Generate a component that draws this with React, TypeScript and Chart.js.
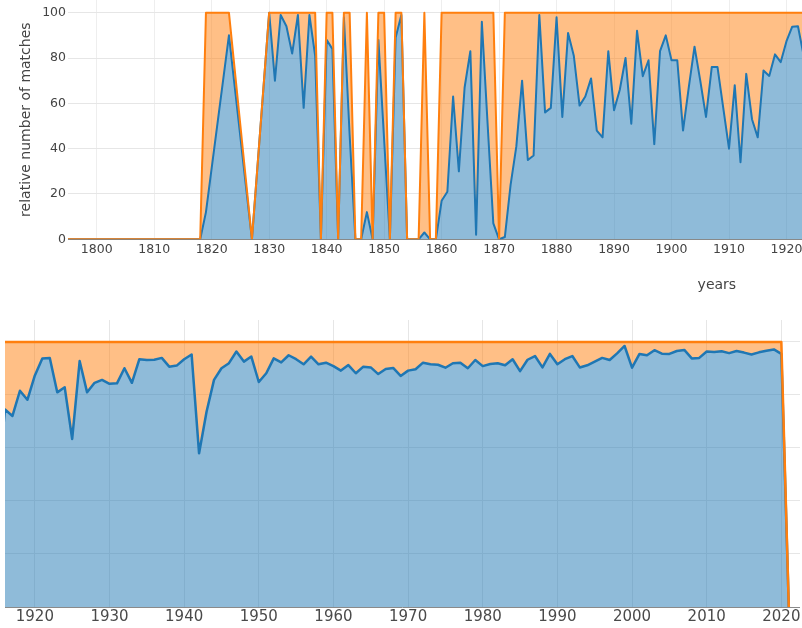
import React, { useEffect, useRef } from 'react';
import { Chart, registerables } from 'chart.js';

Chart.register(...registerables);

// ---- data ----
const totalYears = [
  1795, 1818, 1819, 1823, 1827, 1830, 1838, 1839, 1840, 1841, 1842, 1843, 1844, 1845, 1846, 1847,
  1848, 1849, 1850, 1851, 1852, 1853, 1854, 1856, 1857, 1858, 1859, 1860, 1869, 1870, 1871, 2020, 2021,
];
const totalValues = [
  0, 0, 100, 100, 0, 100, 100, 0, 100, 100, 0, 100, 100, 0, 0, 100,
  0, 100, 100, 0, 100, 100, 0, 0, 100, 0, 0, 100, 100, 0, 100, 100, 0,
];

const matchYears = [
  1795, 1818, 1819, 1823, 1827,
  1830, 1831, 1832, 1833, 1834, 1835, 1836, 1837, 1838, 1839,
  1840, 1841, 1842, 1843, 1844, 1845, 1846, 1847, 1848, 1849,
  1850, 1851, 1852, 1853, 1854, 1856, 1857, 1858, 1859,
  1860, 1861, 1862, 1863, 1864, 1865, 1866, 1867, 1868, 1869,
  1870, 1871, 1872, 1873, 1874, 1875, 1876, 1877, 1878, 1879,
  1880, 1881, 1882, 1883, 1884, 1885, 1886, 1887, 1888, 1889,
  1890, 1891, 1892, 1893, 1894, 1895, 1896, 1897, 1898, 1899,
  1900, 1901, 1902, 1903, 1904, 1905, 1906, 1907, 1908, 1909,
  1910, 1911, 1912, 1913, 1914, 1915, 1916, 1917, 1918, 1919,
  1920, 1921, 1922, 1923, 1924, 1925, 1926, 1927, 1928, 1929,
  1930, 1931, 1932, 1933, 1934, 1935, 1936, 1937, 1938, 1939,
  1940, 1941, 1942, 1943, 1944, 1945, 1946, 1947, 1948, 1949,
  1950, 1951, 1952, 1953, 1954, 1955, 1956, 1957, 1958, 1959,
  1960, 1961, 1962, 1963, 1964, 1965, 1966, 1967, 1968, 1969,
  1970, 1971, 1972, 1973, 1974, 1975, 1976, 1977, 1978, 1979,
  1980, 1981, 1982, 1983, 1984, 1985, 1986, 1987, 1988, 1989,
  1990, 1991, 1992, 1993, 1994, 1995, 1996, 1997, 1998, 1999,
  2000, 2001, 2002, 2003, 2004, 2005, 2006, 2007, 2008, 2009,
  2010, 2011, 2012, 2013, 2014, 2015, 2016, 2017, 2018, 2019,
  2020, 2021,
];
const matchValues = [
  0, 0, 12, 90, 0,
  100, 70, 99, 94, 82, 99, 58, 99, 81, 0,
  88, 84, 0, 98, 46, 0, 0, 12, 0, 88,
  44, 0, 89, 99, 0, 0, 3, 0, 0,
  17, 21, 63, 30, 67, 83, 2, 96, 51, 7,
  0, 1, 24, 41, 70, 35, 37, 99, 56, 58,
  98, 54, 91, 81, 59, 63, 71, 48, 45, 83,
  57, 66, 80, 51, 92, 72, 79, 42, 83, 90,
  79, 79, 48, 67, 85, 70, 54, 76, 76, 58,
  40, 68, 34, 73, 53, 45, 74.5, 72.1, 81.6, 78.2,
  87.4, 93.8, 94, 81, 82.9, 63.4, 92.8, 81, 84.6, 85.7,
  84.2, 84.4, 90.1, 84.6, 93.5, 93.2, 93.3, 94, 90.7, 91.1,
  93.5, 95.3, 58, 73.7, 85.7, 90.1, 92, 96.4, 92.6, 94.5,
  84.9, 88.2, 93.8, 92.3, 95, 93.5, 91.6, 94.5, 91.6, 92.2,
  90.9, 89.2, 91.3, 88.2, 90.7, 90.4, 87.9, 89.8, 90.2, 87.2,
  89.2, 89.7, 92.2, 91.6, 91.4, 90.3, 92, 92.2, 90.1, 93.2,
  90.9, 91.7, 92, 91.2, 93.5, 89, 93.3, 94.7, 90.4, 95.5,
  91.6, 93.5, 94.7, 90.4, 91.2, 92.6, 94, 93.2, 95.7, 98.5,
  90.3, 95.5, 95, 96.9, 95.6, 95.5, 96.6, 97, 93.8, 94,
  96.4, 96.2, 96.5, 95.8, 96.6, 96, 95.3, 96.1, 96.7, 97.2,
  95.5, 0,
];

const valueTicks = [0, 20, 40, 60, 80, 100];
const topYearTicks = [1800, 1810, 1820, 1830, 1840, 1850, 1860, 1870, 1880, 1890, 1900, 1910, 1920];
const bottomYearTicks = [1920, 1930, 1940, 1950, 1960, 1970, 1980, 1990, 2000, 2010, 2020];
const yTitle = 'relative number of matches';
const xTitle = 'years';

const FONT = '"DejaVu Sans", Verdana, sans-serif';
const TEXT = '#444';

function buildData(lineWidth: number) {
  return {
    datasets: [
      {
        label: 'total',
        data: totalYears.map((x, i) => ({ x, y: totalValues[i] })),
        borderColor: '#ff7f0e',
        backgroundColor: 'rgba(255,127,14,0.5)',
        borderWidth: lineWidth,
        pointRadius: 0,
        fill: '+1',
        tension: 0,
        borderJoinStyle: 'round' as const,
      },
      {
        label: 'matches',
        data: matchYears.map((x, i) => ({ x, y: matchValues[i] })),
        borderColor: '#1f77b4',
        backgroundColor: 'rgba(31,119,180,0.5)',
        borderWidth: lineWidth,
        pointRadius: 0,
        fill: 'origin',
        tension: 0,
        borderJoinStyle: 'round' as const,
      },
    ],
  };
}

const yearsLabel = {
  id: 'yearsLabel',
  afterDraw(chart: any) {
    const { ctx, chartArea } = chart;
    ctx.save();
    ctx.font = `14px ${FONT}`;
    ctx.fillStyle = TEXT;
    ctx.textAlign = 'center';
    ctx.textBaseline = 'alphabetic';
    ctx.fillText(xTitle, chartArea.left + (chartArea.right - chartArea.left) * 0.884, chartArea.bottom + 50);
    ctx.restore();
  },
};

function gridColor(ctx: any) {
  return ctx.tick && ctx.tick.value === 0 ? '#8a8a8a' : '#e6e6e6';
}

export default function App() {
  const topRef = useRef<HTMLCanvasElement>(null);
  const bottomRef = useRef<HTMLCanvasElement>(null);

  useEffect(() => {
    const common = {
      responsive: false,
      animation: false as const,
      plugins: {
        legend: { display: false },
        tooltip: { enabled: false },
        filler: { drawTime: 'beforeDatasetsDraw' as const },
      },
    };

    const top = new Chart(topRef.current!, {
      type: 'line',
      data: buildData(2) as any,
      plugins: [yearsLabel],
      options: {
        ...common,
        layout: { padding: 0 },
        scales: {
          x: {
            type: 'linear',
            min: 1795,
            max: 1922.7,
            afterBuildTicks: (s: any) => {
              s.ticks = topYearTicks.map((v) => ({ value: v }));
            },
            afterFit: (s: any) => {
              s.height = 60.7;
              s.paddingLeft = 0;
              s.paddingRight = 0;
            },
            grid: { color: '#eeeeee', drawTicks: false },
            border: { display: false },
            ticks: {
              font: { family: FONT, size: 12.5 },
              color: TEXT,
              padding: 3,
              maxRotation: 0,
              autoSkip: false,
              callback: (v: any) => String(v),
            },
          },
          y: {
            type: 'linear',
            min: 0,
            max: 105.6,
            afterBuildTicks: (s: any) => {
              s.ticks = valueTicks.map((v) => ({ value: v }));
            },
            afterFit: (s: any) => {
              s.width = 68;
              s.paddingTop = 0;
              s.paddingBottom = 0;
            },
            grid: { color: gridColor, drawTicks: false },
            border: { display: false },
            ticks: {
              font: { family: FONT, size: 12.5 },
              color: TEXT,
              padding: 2,
              callback: (v: any) => String(v),
            },
            title: {
              display: true,
              text: yTitle,
              font: { family: FONT, size: 14 },
              color: TEXT,
              padding: { top: 18, bottom: 0 },
            },
          },
        },
      } as any,
    });

    const bottom = new Chart(bottomRef.current!, {
      type: 'line',
      data: buildData(2.5) as any,
      options: {
        ...common,
        layout: { padding: { top: 20, right: 2, left: 0, bottom: 0 } },
        scales: {
          x: {
            type: 'linear',
            min: 1916,
            max: 2022.5,
            afterBuildTicks: (s: any) => {
              s.ticks = bottomYearTicks.map((v) => ({ value: v }));
            },
            afterFit: (s: any) => {
              s.height = 21;
              s.paddingLeft = 0;
              s.paddingRight = 0;
            },
            grid: { color: '#e6e6e6', drawTicks: false },
            border: { display: false },
            ticks: {
              font: { family: FONT, size: 15 },
              color: '#4a4a4a',
              padding: 1.5,
              maxRotation: 0,
              autoSkip: false,
              callback: (v: any) => String(v),
            },
          },
          y: {
            type: 'linear',
            min: 0,
            max: 108.3,
            afterBuildTicks: (s: any) => {
              s.ticks = valueTicks.map((v) => ({ value: v }));
            },
            afterFit: (s: any) => {
              s.width = 5;
              s.paddingTop = 0;
              s.paddingBottom = 0;
            },
            grid: { color: gridColor, drawTicks: false },
            border: { display: false },
            ticks: { display: false },
          },
        },
      } as any,
    });

    return () => {
      top.destroy();
      bottom.destroy();
    };
  }, []);

  return (
    <div style={{ position: 'absolute', left: 0, top: 0, width: 802, height: 628, background: '#fff' }}>
      <canvas
        ref={topRef}
        width={802}
        height={300}
        style={{ position: 'absolute', left: 0, top: 0, width: 802, height: 300, display: 'block' }}
      />
      <canvas
        ref={bottomRef}
        width={802}
        height={328}
        style={{ position: 'absolute', left: 0, top: 300, width: 802, height: 328, display: 'block' }}
      />
    </div>
  );
}
